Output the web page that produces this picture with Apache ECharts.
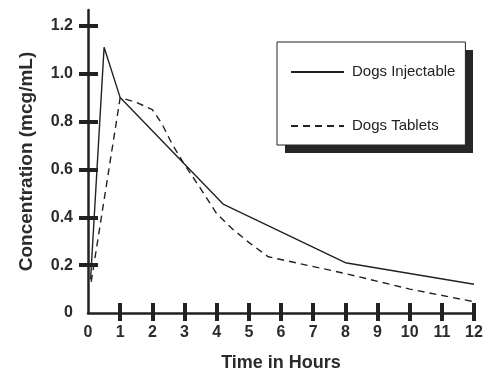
<!DOCTYPE html>
<html>
<head>
<meta charset="utf-8">
<script src="https://cdn.jsdelivr.net/npm/echarts@6/dist/echarts.min.js"></script>
<style>html,body{margin:0;padding:0;background:#fff}#c{width:503px;height:381px}</style>
</head>
<body>
<div id="c"></div>
<script>
// Data
const injHours = [0.08, 0.5, 1, 4.2, 8, 12];
const injValues = [0.14, 1.11, 0.90, 0.455, 0.21, 0.12];
const tabHours = [0.1, 1, 1.5, 2, 2.3, 2.6, 3, 3.5, 4, 4.5, 5, 5.6, 8, 10, 12];
const tabValues = [0.13, 0.90, 0.88, 0.85, 0.79, 0.71, 0.62, 0.52, 0.415, 0.35, 0.295, 0.235, 0.165, 0.10, 0.047];
const xTickValues = [0,1,2,3,4,5,6,7,8,9,10,11,12];
const xTickLabels = ['0','1','2','3','4','5','6','7','8','9','10','11','12'];
const yTickValues = [0,0.2,0.4,0.6,0.8,1.0,1.2];
const yTickLabels = ['0','0.2','0.4','0.6','0.8','1.0','1.2'];
const seriesNames = ['Dogs Injectable','Dogs Tablets'];
const xTitle = 'Time in Hours';
const yTitle = 'Concentration (mcg/mL)';

const ink = '#222';
const txt = '#2b2b2b';
const xLab = v => { const i = xTickValues.indexOf(v); return i >= 0 ? xTickLabels[i] : ''; };
const yLab = v => { const i = yTickValues.findIndex(t => Math.abs(t - v) < 1e-9); return i >= 0 ? yTickLabels[i] : ''; };

const chart = echarts.init(document.getElementById('c'), null, {renderer: 'canvas'});
chart.setOption({
  animation: false,
  backgroundColor: '#fff',
  grid: {left: 88, right: 29, top: 10, bottom: 68},
  graphic: [{
    type: 'rect', z: 1, silent: true,
    shape: {x: 285, y: 50, width: 188, height: 103},
    style: {fill: '#262626'}
  }],
  legend: {
    z: 10,
    orient: 'vertical',
    left: 277, top: 42,
    padding: [22, 10, 11, 13],
    itemWidth: 53, itemHeight: 16, itemGap: 38,
    backgroundColor: '#fff',
    borderColor: ink, borderWidth: 1,
    itemStyle: {opacity: 0},
    textStyle: {fontFamily: 'Liberation Sans, Arial, sans-serif', fontSize: 15, color: ink, lineHeight: 16, padding: [0,0,0,3]},
    data: seriesNames
  },
  xAxis: [{
    type: 'value', min: 0, max: 12, interval: 1,
    position: 'bottom',
    splitLine: {show: false},
    axisLine: {show: true, lineStyle: {color: ink, width: 2.5}},
    axisTick: {show: true, inside: false, length: 8, customValues: xTickValues.slice(1), lineStyle: {color: ink, width: 4}},
    axisLabel: {show: true, customValues: xTickValues, formatter: xLab, margin: 12,
      fontFamily: 'Liberation Sans, Arial, sans-serif', fontWeight: 'bold', fontSize: 16, color: txt},
    name: xTitle, nameLocation: 'middle', nameGap: 41,
    nameTextStyle: {fontFamily: 'Liberation Sans, Arial, sans-serif', fontWeight: 'bold', fontSize: 18, color: txt}
  }, {
    type: 'value', min: 0, max: 12, interval: 1,
    position: 'bottom',
    splitLine: {show: false},
    axisLine: {show: false},
    axisTick: {show: true, inside: true, length: 10, customValues: xTickValues.slice(1), lineStyle: {color: ink, width: 4}},
    axisLabel: {show: false}
  }],
  yAxis: [{
    type: 'value', min: 0, max: 1.266, interval: 0.2,
    position: 'left',
    splitLine: {show: false},
    axisLine: {show: true, lineStyle: {color: ink, width: 2.5}},
    axisTick: {show: true, inside: false, length: 9, customValues: yTickValues.slice(1), lineStyle: {color: ink, width: 4}},
    axisLabel: {show: true, customValues: yTickValues, formatter: yLab, margin: 15,
      fontFamily: 'Liberation Sans, Arial, sans-serif', fontWeight: 'bold', fontSize: 16, color: txt},
    name: yTitle, nameLocation: 'middle', nameGap: 52, nameRotate: 90,
    nameTextStyle: {fontFamily: 'Liberation Sans, Arial, sans-serif', fontWeight: 'bold', fontSize: 19, color: txt}
  }, {
    type: 'value', min: 0, max: 1.266, interval: 0.2,
    position: 'left',
    splitLine: {show: false},
    axisLine: {show: false},
    axisTick: {show: true, inside: true, length: 10, customValues: yTickValues.slice(1), lineStyle: {color: ink, width: 4}},
    axisLabel: {show: false}
  }],
  series: [{
    name: seriesNames[0], type: 'line', xAxisIndex: 0, yAxisIndex: 0,
    symbol: 'none', color: ink,
    lineStyle: {color: ink, width: 1.4, type: 'solid'},
    data: injHours.map((h, i) => [h, injValues[i]])
  }, {
    name: seriesNames[1], type: 'line', xAxisIndex: 0, yAxisIndex: 0,
    symbol: 'none', color: ink,
    lineStyle: {color: ink, width: 1.4, type: [7, 5]},
    data: tabHours.map((h, i) => [h, tabValues[i]])
  }]
});
</script>
</body>
</html>
